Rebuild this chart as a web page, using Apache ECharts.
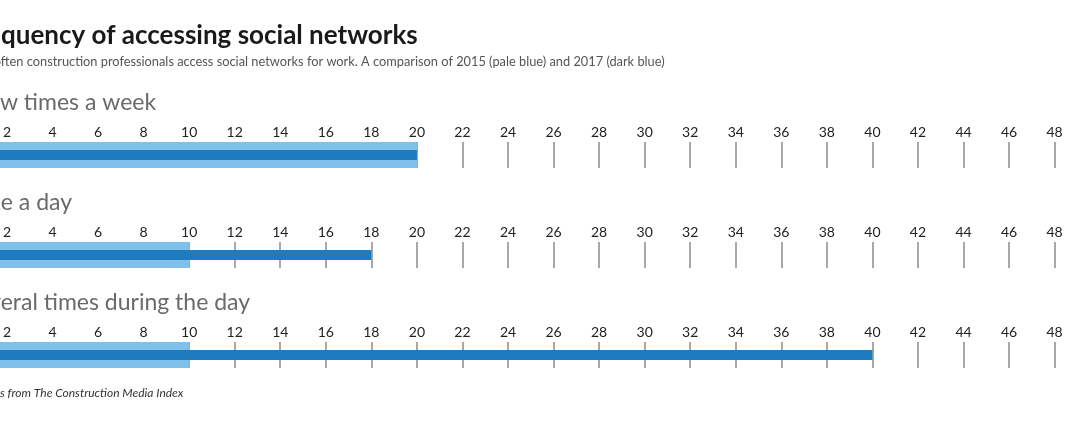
<!DOCTYPE html>
<html><head><meta charset="utf-8">
<script src="https://cdn.jsdelivr.net/npm/echarts@6/dist/echarts.min.js"></script>
<style>html,body{margin:0;padding:0;background:#fff;overflow:hidden;width:1068px;height:423px}
#wrap{position:relative;width:1068px;height:423px;overflow:hidden}
#c{position:absolute;left:-60px;top:0;width:1128px;height:423px}</style>
</head><body><div id="wrap"><div id="c"></div></div>
<script>
const categories = ['A few times a week', 'Once a day', 'Several times during the day'];
const values2015 = [20, 10, 10];
const values2017 = [20, 18, 40];
const axisMin = 0, axisMax = 48, axisInterval = 2;
const titleText = 'Frequency of accessing social networks';
const subtitleText = 'How often construction professionals access social networks for work. A comparison of 2015 (pale blue) and 2017 (dark blue)';
const sourceText = 'Figures from The Construction Media Index';

const FONT = 'Lato';
const SHIFT = 60; // chart canvas starts 60px left of the page
const pale = '#7fc1ea', dark = '#1f7bbf';
const gridTops = [142, 242, 342];
const labelTop = [91, 191, 291];

const mctx = document.createElement('canvas').getContext('2d');
function prefixW(prefix, font) { mctx.font = font; return mctx.measureText(prefix).width; }
function leftFor(prefix, font, visibleX) { return SHIFT + visibleX - prefixW(prefix, font); }

const titleFont = 'bold 26px ' + FONT;
const subFont = '12.8px ' + FONT;
const catFont = '23px ' + FONT;
const srcFont = 'italic 12px ' + FONT;
const hiddenCat = ['A fe', 'Onc', 'Sev'];
const visCatX = [0, 1, 1];

const grids = [], xAxes = [], yAxes = [], series = [], graphics = [];
categories.forEach((cat, i) => {
  grids.push({left: SHIFT - 38.6, right: 13.4, top: gridTops[i], height: 26, containLabel: false});
  xAxes.push({
    gridIndex: i, type: 'value', position: 'top', min: axisMin, max: axisMax, interval: axisInterval,
    axisLine: {show: false}, axisTick: {show: false},
    axisLabel: {margin: 3, color: '#222', fontFamily: FONT, fontSize: 14},
    splitLine: {show: true, lineStyle: {color: '#a8a8a8', width: 2}}
  });
  yAxes.push({gridIndex: i, type: 'category', data: [cat], show: false});
  yAxes.push({gridIndex: i, type: 'category', data: [cat], show: false});
  series.push({
    type: 'bar', name: '2015', xAxisIndex: i, yAxisIndex: 2 * i, data: [values2015[i]], barWidth: 26,
    itemStyle: {color: pale}, silent: true, animation: false, z: 2
  });
  series.push({
    type: 'bar', name: '2017', xAxisIndex: i, yAxisIndex: 2 * i + 1, data: [values2017[i]], barWidth: 10,
    itemStyle: {color: dark}, silent: true, animation: false, z: 3
  });
  graphics.push({
    type: 'text', left: leftFor(hiddenCat[i], catFont, visCatX[i]), top: labelTop[i],
    style: {text: cat, fill: '#6a6a6a', font: catFont}
  });
});

graphics.push({type: 'text', left: leftFor('Fre', titleFont, 1), top: 23, style: {text: titleText, fill: '#1a1a1a', font: titleFont}});
graphics.push({type: 'text', left: leftFor('How o', subFont, 1), top: 55, style: {text: subtitleText, fill: '#555', font: subFont}});
graphics.push({type: 'text', left: leftFor('Figure', srcFont, 0), top: 387, style: {text: sourceText, fill: '#333', font: srcFont}});

const chart = echarts.init(document.getElementById('c'), null, {renderer: 'canvas'});
chart.setOption({
  animation: false,
  grid: grids, xAxis: xAxes, yAxis: yAxes, series: series, graphic: graphics
});
</script></body></html>
